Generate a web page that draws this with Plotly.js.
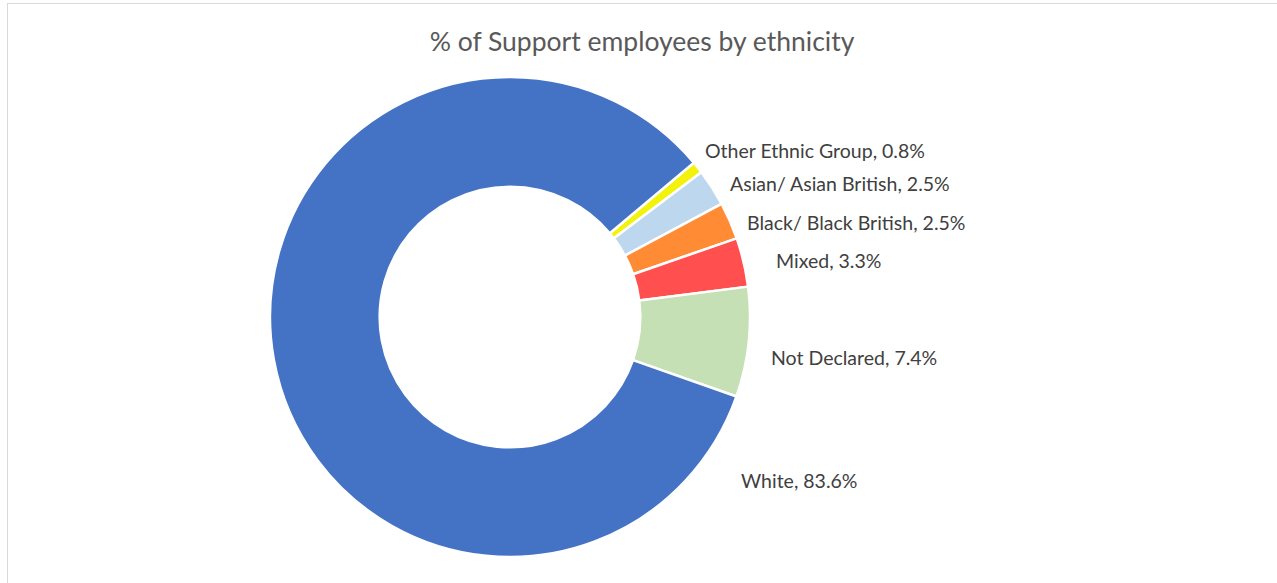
<!DOCTYPE html>
<html>
<head>
<meta charset="utf-8">
<script src="https://cdn.plot.ly/plotly-3.0.1.min.js"></script>
<style>
  html, body { margin: 0; padding: 0; background: #fff; overflow: hidden; }
  #frame { position: absolute; left: 7px; top: 3px; width: 1290px; height: 600px; border: 1px solid #d9d9d9; box-sizing: border-box; }
  #chart { position: absolute; left: 0; top: 0; width: 1277px; height: 583px; }
</style>
</head>
<body>
<div id="frame"></div>
<div id="chart"></div>
<script>
const categories = ["Other Ethnic Group", "Asian/ Asian British", "Black/ Black British", "Mixed", "Not Declared", "White"];
const percentages = [0.8, 2.5, 2.5, 3.3, 7.4, 83.6];
const sliceColors = ["#f2f20a", "#bdd7ee", "#ff8c35", "#ff4f4f", "#c5e0b4", "#4472c4"];
const chartTitle = "% of Support employees by ethnicity";

const W = 1277, H = 583;
const cx = 510, cy = 317, R = 240;
const FONT = "Lato, Open Sans, Liberation Sans, sans-serif";

// Data-label anchor positions (pixels, left edge / vertical middle), as in the reference
const labelPos = [[703, 150], [728, 184], [745, 222], [774, 260], [769, 357], [739, 481]];

const trace = {
  type: "pie",
  labels: categories,
  values: percentages,
  sort: false,
  direction: "clockwise",
  rotation: 50,
  hole: 0.543,
  marker: { colors: sliceColors, line: { color: "#ffffff", width: 2.5 } },
  textinfo: "none",
  hoverinfo: "label+value",
  domain: {
    x: [(cx - R) / W, (cx + R) / W],
    y: [1 - (cy + R) / H, 1 - (cy - R) / H]
  },
  showlegend: false
};

const annotations = categories.map((c, i) => ({
  xref: "paper", yref: "paper",
  x: labelPos[i][0] / W, y: 1 - labelPos[i][1] / H,
  xanchor: "left", yanchor: "middle",
  showarrow: false,
  text: c + ", " + percentages[i].toFixed(1) + "%",
  font: { family: FONT, size: 19.5, color: "#404040" }
}));

const layout = {
  width: W, height: H,
  margin: { l: 0, r: 0, t: 0, b: 0 },
  paper_bgcolor: "rgba(0,0,0,0)",
  plot_bgcolor: "rgba(0,0,0,0)",
  title: {
    text: chartTitle,
    x: 642 / W, xanchor: "center",
    y: 1 - 42 / H, yanchor: "middle",
    font: { family: FONT, size: 26.5, color: "#595959" }
  },
  annotations: annotations,
  showlegend: false
};

Plotly.newPlot("chart", [trace], layout, { displayModeBar: false, staticPlot: true });
</script>
</body>
</html>
